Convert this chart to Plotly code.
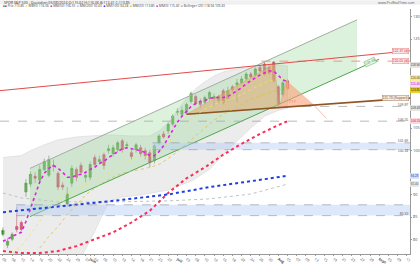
import plotly.graph_objects as go

# ---------------- data ----------------
idx = list(range(63))
opens = [81.11, 78.68, 80.01, 82.88, 83.77, 90.63, 92.40, 94.17, 93.28, 95.71,
         94.39, 96.60, 94.83, 92.17, 87.97, 92.62, 95.71, 96.60, 93.94, 93.94,
         98.37, 97.48, 99.03, 99.92, 99.25, 100.14, 102.13, 101.02, 99.47, 100.14,
         100.58, 99.92, 99.47, 97.70, 101.69, 103.68, 104.34, 105.89, 108.54, 108.10,
         108.54, 110.98, 112.08, 110.76, 110.76, 111.64, 111.64, 111.20, 113.41, 111.64,
         114.29, 114.74, 115.18, 116.06, 117.17, 116.95, 118.72, 119.38, 118.72, 119.82,
         114.29, 112.52, 115.62]
highs = [82.66, 80.23, 81.56, 87.31, 84.21, 93.50, 95.27, 95.05, 96.60, 98.15,
         98.81, 97.93, 95.27, 92.84, 91.73, 96.60, 96.16, 97.26, 95.27, 97.48,
         99.03, 98.81, 99.47, 101.24, 101.24, 102.13, 102.57, 101.91, 100.14, 101.69,
         101.24, 100.58, 100.14, 101.46, 103.68, 104.34, 106.33, 108.10, 109.43, 109.87,
         110.76, 113.19, 112.52, 111.64, 112.30, 113.41, 112.75, 112.52, 113.85, 114.29,
         114.74, 116.06, 116.73, 117.61, 117.61, 118.72, 119.16, 119.82, 119.16, 120.05,
         114.74, 115.62, 116.06]
lows = [80.67, 78.02, 79.57, 81.56, 81.78, 89.52, 91.73, 92.62, 92.62, 95.27,
        93.94, 95.27, 91.07, 91.07, 87.31, 91.73, 93.06, 94.39, 92.84, 93.28,
        96.16, 96.82, 95.71, 99.25, 98.59, 99.47, 99.47, 100.36, 97.93, 99.47,
        98.59, 97.93, 96.16, 97.04, 101.24, 102.57, 103.68, 105.45, 107.88, 107.66,
        108.10, 110.53, 110.09, 109.43, 110.31, 111.20, 109.87, 110.53, 110.31, 110.98,
        113.19, 110.76, 114.74, 115.62, 116.06, 116.51, 117.39, 116.73, 116.95, 115.18,
        109.87, 112.08, 113.41]
closes = [82.00, 79.57, 81.11, 82.22, 82.22, 92.62, 94.61, 93.72, 95.71, 97.48,
          97.93, 96.38, 91.73, 91.73, 90.18, 95.94, 93.94, 95.05, 94.39, 96.82,
          96.82, 97.93, 96.60, 100.36, 100.58, 101.69, 100.14, 101.24, 98.59, 101.24,
          99.25, 98.81, 97.26, 101.02, 103.23, 103.01, 105.89, 107.66, 108.76, 108.99,
          110.31, 112.75, 110.53, 110.31, 111.86, 112.97, 112.08, 112.08, 110.76, 113.41,
          113.63, 115.18, 116.06, 117.17, 116.51, 118.28, 117.83, 117.17, 117.39, 115.62,
          110.53, 115.18, 113.85]

ma_magenta = [79.57, 80.01, 80.67, 81.11, 81.56, 83.99, 86.87, 89.96, 92.84, 94.83,
              95.94, 96.60, 95.94, 95.05, 93.94, 93.94, 94.39, 94.61, 95.05, 95.71,
              96.16, 97.04, 97.48, 98.37, 99.03, 99.70, 100.36, 100.58, 100.36, 100.14,
              99.92, 99.47, 98.81, 98.81, 99.70, 101.02, 102.79, 104.56, 106.33, 107.66,
              108.76, 109.87, 110.53, 110.98, 111.20, 111.64, 111.86, 111.86, 111.86, 112.08,
              112.75, 113.41, 114.07, 114.96, 115.62, 116.29, 116.95, 117.39, 117.83, 117.83,
              116.73, 115.84, 115.40]
ya_x = [2, 4, 6, 8, 10, 12, 14, 16, 18, 20, 22, 24, 26, 28, 30, 32, 34, 36, 38, 40,
        42, 44, 46, 48, 50, 52, 54, 56, 58, 60, 62]
ya_y = [76.91, 78.46, 81.11, 83.99, 86.87, 88.86, 90.18, 91.29, 92.17, 93.28,
        94.39, 95.71, 97.04, 97.93, 98.37, 98.59, 99.47, 101.69, 103.90, 106.11,
        107.88, 109.21, 110.31, 110.98, 111.64, 112.52, 113.63, 114.74, 115.62, 116.06, 116.06]
yb_x = [8, 10, 12, 14, 16, 18, 20, 22, 24, 26, 28, 30, 32, 34, 36, 38, 40, 42, 44, 46,
        48, 50, 52, 54, 56, 58, 60, 62]
yb_y = [78.02, 80.67, 82.88, 85.54, 87.75, 89.96, 91.51, 92.84, 93.94, 94.83,
        95.27, 95.71, 96.16, 96.82, 98.15, 99.70, 101.46, 103.23, 105.00, 106.77,
        108.10, 109.21, 110.31, 111.42, 112.30, 112.97, 113.63, 113.85]
red_x = [0, 4, 8, 12, 16, 20, 24, 28, 32, 36, 40, 44, 48, 52, 56, 60, 62]
red_y = [77.35, 76.91, 76.91, 77.35, 78.46, 80.01, 81.56, 83.77, 86.42, 90.41,
         93.72, 96.16, 99.03, 101.46, 103.68, 105.67, 106.55]
blue_x = [0, 12, 24, 36, 45, 54, 62]
blue_y = [86.09, 87.31, 88.64, 90.07, 91.73, 93.06, 94.28]
grey_x = [0, 4, 12, 24, 36, 45, 54, 62]
grey_y = [90.41, 89.30, 88.41, 88.41, 88.64, 89.08, 90.18, 92.40]
bb_up_x = [0, 4, 6, 9, 12, 16, 19, 23, 28, 32, 34, 36, 38, 40, 42, 44, 46, 48, 51, 56, 58, 60, 62]
bb_up_y = [98.37, 98.81, 99.92, 101.24, 102.35, 103.01, 103.23, 103.46, 103.23, 103.23,
           104.34, 106.11, 108.99, 111.64, 113.85, 115.40, 116.73, 117.61, 118.28, 118.72,
           119.16, 119.16, 118.94]
bb_lo_x = [0, 12, 17, 20, 23, 26, 30, 36, 41, 45, 49, 54, 57, 60, 62]
bb_lo_y = [75.14, 74.48, 75.81, 81.78, 88.41, 89.52, 89.96, 91.07, 93.06, 95.71,
           100.14, 105.00, 107.66, 108.99, 109.43]

# drawn objects (index, price)
red_line = ([-0.65, 88.7], [113.41, 122.37])
red_dash = ([56.3, 88.7], [120.05, 120.05])
brown_line = ([40.0, 88.7], [108.10, 111.73])
grey_dash1 = ([-0.65, 88.7], [106.55, 106.55])
grey_dash2 = ([61.3, 88.7], [109.87, 109.87])
zone1 = (32.6, 88.7, 100.14, 101.69)
zone2 = (2.83, 88.7, 85.32, 87.75)
chan_up = ([5.87, 77.17], [95.93, 129.34])
chan_lo = ([5.87, 81.96], [85.10, 120.49])
chan_poly = ([5.87, 77.17, 77.17, 5.87, 5.87], [95.93, 129.34, 118.28, 85.10, 95.93])
tan_tri = ([40.0, 59.13, 60.22, 40.0], [108.10, 119.38, 109.65, 108.10])
salmon_tri = ([60.22, 61.74, 67.83, 60.22], [109.65, 115.62, 110.09, 109.65])
salmon_tail = ([67.83, 70.43], [110.09, 107.22])

tick_vals = [0, 2, 4, 6, 8, 10, 12, 14, 16, 18, 19, 20, 22, 24, 26, 28, 30, 32, 34, 36,
             38, 40, 42, 44, 46, 48, 50, 52, 54, 56, 58, 60, 62, 64, 66, 68, 70, 72, 74,
             76, 78, 80, 82, 84, 86, 88]
tick_text = ["06", "08", "10", "14", "16", "20", "22", "24", "29", "31", "<b>Juin</b>",
             "04", "06", "10", "12", "14", "18", "21", "25", "27", "<b>Juil</b>", "03",
             "08", "10", "12", "16", "18", "22", "24", "26", "30", "<b>Aug</b>", "05",
             "07", "09", "13", "15", "19", "21", "23", "27", "29", "<b>Sept</b>", "05",
             "09", "11"]
y_ticks = [80, 85, 90, 100, 105, 125, 130]

# ---------------- figure ----------------
fig = go.Figure()

def line(x, y, color, width=1, dash=None, fill=None, fillcolor=None):
    fig.add_trace(go.Scatter(x=x, y=y, mode="lines", hoverinfo="skip",
                             line=dict(color=color, width=width, dash=dash),
                             fill=fill, fillcolor=fillcolor))

# Bollinger band
line(bb_up_x + bb_lo_x[::-1], bb_up_y + bb_lo_y[::-1], "#d6d6d6", 0.6,
     fill="toself", fillcolor="rgba(200,200,200,0.35)")
# regression channel
line(chan_poly[0], chan_poly[1], "rgba(0,0,0,0)", 0, fill="toself",
     fillcolor="rgba(150,215,150,0.32)")
line(chan_up[0], chan_up[1], "#a3ada3", 1)
line(chan_lo[0], chan_lo[1], "#4ca84c", 1)
# support zones
for (x0, x1, y0, y1) in (zone1, zone2):
    line([x0, x1, x1, x0, x0], [y0, y0, y1, y1, y0], "rgba(0,0,0,0)", 0,
         fill="toself", fillcolor="rgba(180,205,245,0.45)")
    line([x0, x1], [y0, y0], "#9a9fb0", 0.7, "dash")
    line([x0, x1], [y1, y1], "#9a9fb0", 0.7, "dash")
# horizontal dashed levels
line(grey_dash1[0], grey_dash1[1], "#a8a8a8", 0.8, "dash")
line(grey_dash2[0], grey_dash2[1], "#a8a8a8", 0.8, "dash")
line(red_dash[0], red_dash[1], "#f08a8a", 0.9, "dash")
# pattern triangles
line(tan_tri[0], tan_tri[1], "rgba(200,150,90,0.6)", 0.6, fill="toself",
     fillcolor="rgba(220,170,110,0.55)")
line(salmon_tri[0], salmon_tri[1], "rgba(240,140,100,0.6)", 0.6, fill="toself",
     fillcolor="rgba(250,160,120,0.6)")
line(salmon_tail[0], salmon_tail[1], "#f3a08a", 0.7)
# trend lines
line(red_line[0], red_line[1], "#e24a4a", 1)
line(brown_line[0], brown_line[1], "#8f5424", 1.6)
# moving averages
line(grey_x, grey_y, "#c2c2c2", 1, "dot")
line(blue_x, blue_y, "#1f3fe0", 2, "dot")
line(red_x, red_y, "#ff2a55", 2, "dot")
line(yb_x, yb_y, "#d8c248", 0.8, "dot")
line(ya_x, ya_y, "#ece46a", 0.8, "dot")
line(idx, ma_magenta, "#e21ee2", 1.6, "dot")

fig.add_trace(go.Candlestick(
    x=idx, open=opens, high=highs, low=lows, close=closes, hoverinfo="skip",
    increasing=dict(fillcolor="#36a11e", line=dict(color="#2a7d16", width=0.6)),
    decreasing=dict(fillcolor="#e8204e", line=dict(color="#c8143e", width=0.6)),
    whiskerwidth=0))

# ---------------- annotations ----------------
ann = []
def label(x, y, text, color, bg, border=None, size=3.4, xref="x", xanchor="right", angle=0):
    ann.append(dict(x=x, y=y, xref=xref, yref="y", text=text, showarrow=False,
                    font=dict(size=size, color=color, family="Arial"), bgcolor=bg,
                    bordercolor=border or bg, borderwidth=0.5, borderpad=0.3,
                    xanchor=xanchor, yanchor="middle", textangle=angle))

label(88.5, 122.3, "122.37 (d)", "#d03030", "#fde8e8", "#e68080")
label(88.5, 120.05, "120.05 (d)", "#d03030", "#fde8e8", "#e68080")
label(81.5, 119.9, "120.49", "#3c963c", "#eaf6ea", "#60b060", angle=-24)
label(88.5, 111.75, "111.73 (Support)", "#8f5424", "#f4ece4", "#b08060")
label(88.5, 110.2, "109.87", "#555", "rgba(0,0,0,0)")
label(88.5, 106.9, "106.55", "#555", "rgba(0,0,0,0)")
label(88.5, 102.0, "101.69", "#555", "rgba(0,0,0,0)")
label(88.5, 99.8, "100.14", "#555", "rgba(0,0,0,0)")
label(88.5, 85.6, "85.32", "#555", "rgba(0,0,0,0)")
ann.append(dict(x=63.2, y=110.9, xref="x", yref="y", text="? ? ?", showarrow=False,
                font=dict(size=3.6, color="#e86040")))

# right-axis value boxes (placed just beside their lines, spread so they do not collide)
for v, t, c, bg in [(119.2, "118.94", "#444", "#e2e2e2"),
                    (116.35, "116.06", "#444", "#f3ec9a"),
                    (115.0, "115.40", "#c010c0", "#f7d8f7"),
                    (113.65, "113.85", "#222", "#e8cf10"),
                    (109.43, "109.43", "#444", "#e2e2e2"),
                    (106.55, "106.55", "#d02040", "#fbd6dc"),
                    (94.28, "94.28", "#2030d0", "#d8def8"),
                    (92.40, "92.40", "#555", "#e6e6e6")]:
    label(1.0, v, t, c, bg, xref="paper", xanchor="left", size=3.0)

def py2paper(py):
    return (258 - py) / 249.0

ann.append(dict(x=0.005, y=py2paper(2.3), xref="paper", yref="paper",
                text="SPDR S&P 500 - Quotidien 05/08/2024 O:115.62 H:116.06 B:113.41 C:113.85",
                showarrow=False, xanchor="left", yanchor="middle",
                font=dict(size=3.6, color="#333")))
ann.append(dict(x=1.0, y=py2paper(2.3), xref="paper", yref="paper",
                text="www.ProRealTime.com", showarrow=False, xanchor="right", yanchor="middle",
                font=dict(size=3.4, color="#555"), xshift=6))
legend_txt = ("<span style='color:#36a11e'>■</span><span style='color:#e8204e'>■</span> Prix 113.85  "
              "<span style='color:#ece46a'>■</span> MM(5) 116.06  "
              "<span style='color:#ff2a55'>■</span> MM(50) 106.55  "
              "<span style='color:#c2c2c2'>■</span> MM(200) 92.40  "
              "<span style='color:#1f3fe0'>■</span> MM(100) 94.28  "
              "<span style='color:#d8c248'>■</span> MM(20) 113.85  "
              "<span style='color:#e21ee2'>■</span> MM(3) 115.40  "
              "<span style='color:#aaa'>■</span> Bollinger (20) 118.94 109.43")
ann.append(dict(x=0.003, y=py2paper(6.2), xref="paper", yref="paper", text=legend_txt,
                showarrow=False, xanchor="left", yanchor="middle",
                font=dict(size=3.2, color="#444")))

fig.update_layout(
    width=420, height=265, margin=dict(l=0, r=9, t=9, b=7),
    paper_bgcolor="white", plot_bgcolor="white", showlegend=False,
    annotations=ann,
    shapes=[dict(type="rect", xref="paper", yref="paper", x0=0, x1=1.03,
                 y0=py2paper(4.6), y1=py2paper(0), fillcolor="#f0f0f0",
                 line=dict(width=0), layer="below")],
    xaxis=dict(range=[-0.65, 88.7], tickvals=tick_vals, ticktext=tick_text,
               tickfont=dict(size=3.6, color="#444"), showgrid=False, zeroline=False,
               showline=True, linecolor="#9a9a9a", linewidth=0.6, ticks="outside",
               ticklen=1, tickcolor="#9a9a9a", rangeslider=dict(visible=False)),
    yaxis=dict(side="right", range=[76.69, 131.77], tickvals=y_ticks,
               tickfont=dict(size=3.8, color="#444"), showgrid=False, zeroline=False,
               showline=True, linecolor="#9a9a9a", linewidth=0.6, ticks="outside",
               ticklen=1.5, tickcolor="#9a9a9a"),
)

fig.write_html("out.html")
